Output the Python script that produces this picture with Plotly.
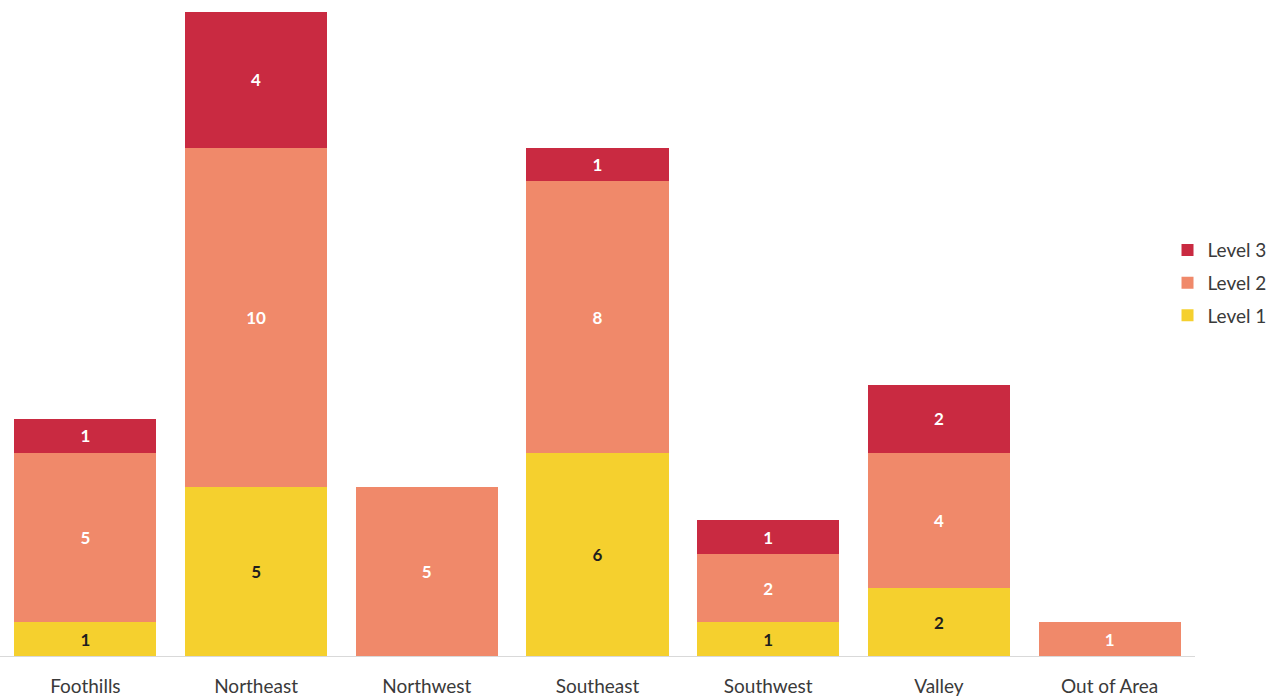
import plotly.graph_objects as go

categories = ["Foothills", "Northeast", "Northwest", "Southeast", "Southwest", "Valley", "Out of Area"]
level1 = [1, 5, None, 6, 1, 2, None]
level2 = [5, 10, 5, 8, 2, 4, 1]
level3 = [1, 4, None, 1, 1, 2, None]

font_family = "Lato, 'Open Sans', sans-serif"

fig = go.Figure()
series = [
    ("Level 1", level1, "#F5D02E", "#1e1e1e", 3),
    ("Level 2", level2, "#F0896A", "#ffffff", 2),
    ("Level 3", level3, "#C92A41", "#ffffff", 1),
]
for name, vals, color, tcolor, rank in series:
    fig.add_trace(go.Bar(
        name=name, x=categories, y=vals, legendgroup=name, legendrank=rank,
        marker=dict(color=color, line=dict(width=0)),
        text=[("" if v is None else str(v)) for v in vals],
        textposition="inside", insidetextanchor="middle", textangle=0,
        textfont=dict(family=font_family, size=17, color=tcolor, weight="bold"),
        hoverinfo="skip",
    ))

fig.update_layout(
    barmode="stack",
    bargap=0.168,
    width=1281, height=698,
    margin=dict(l=0, r=86, t=12, b=42, autoexpand=False),
    paper_bgcolor="white", plot_bgcolor="white",
    font=dict(family=font_family),
    legend=dict(
        traceorder="grouped",
        x=0.977, xanchor="left", y=0.579, yanchor="middle",
        font=dict(family=font_family, size=19, color="#3a3a3a"),
        itemwidth=30, tracegroupgap=5,
        bgcolor="rgba(0,0,0,0)",
    ),
    xaxis=dict(
        automargin=False,
        showline=True, linecolor="#d9d9d9", linewidth=1,
        showgrid=False, ticks="", ticklabelstandoff=13,
        tickfont=dict(family=font_family, size=19, color="#3a3a3a"),
    ),
    yaxis=dict(range=[0, 19], visible=False, showgrid=False, automargin=False),
)

fig.write_html(
    "out.html",
    config={"displayModeBar": False},
    post_script="document.body.style.margin='0';document.body.style.overflow='hidden';",
)
